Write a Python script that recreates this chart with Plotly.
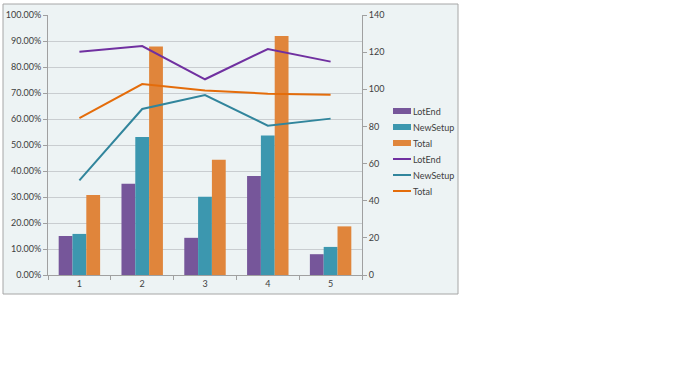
import plotly.graph_objects as go

categories = ["1", "2", "3", "4", "5"]
bar_lotend = [15.0, 35.1, 14.3, 38.1, 8.0]
bar_newsetup = [15.8, 53.1, 30.1, 53.7, 10.8]
bar_total = [30.8, 87.9, 44.3, 91.9, 18.7]
line_lotend = [120.2, 123.3, 105.4, 121.7, 114.9]
line_newsetup = [51.0, 89.4, 96.9, 80.4, 84.2]
line_total = [84.5, 102.8, 99.4, 97.6, 97.1]
left_ticks = [0, 10, 20, 30, 40, 50, 60, 70, 80, 90, 100]
left_labels = [f"{v:.2f}%" for v in left_ticks]
right_ticks = [0, 20, 40, 60, 80, 100, 120, 140]
series_names = ["LotEnd", "NewSetup", "Total"]

W, H = 683, 384
L, R, T, B = 48, 362, 15, 275
bg = "#EDF3F4"
font = "Lato, 'Open Sans', sans-serif"
tick_col = "#404040"
bar_colors = ["#76569A", "#3C97AF", "#E0853B"]
line_colors = ["#7030A0", "#31859C", "#E46C0A"]

fig = go.Figure()
for n, v, c in zip(series_names, [bar_lotend, bar_newsetup, bar_total], bar_colors):
    fig.add_trace(go.Bar(x=categories, y=v, name=n, marker=dict(color=c, line=dict(width=0)),
                         yaxis="y", showlegend=False))
for n, v, c in zip(series_names, [line_lotend, line_newsetup, line_total], line_colors):
    fig.add_trace(go.Scatter(x=categories, y=v, name=n, mode="lines", line=dict(color=c, width=2),
                             yaxis="y2", showlegend=False))

pw, ph = R - L, B - T
def px(x):
    return (x - L) / pw
def py(y):
    return (B - y) / ph

shapes = [dict(type="rect", xref="paper", yref="paper", x0=px(3), x1=px(458), y0=py(294), y1=py(4),
               fillcolor=bg, line=dict(color="#A6A6A6", width=1), layer="below")]
annotations = []
# manual legend
leg_y = [111, 127, 143, 159, 175, 191]
for i in range(6):
    y = leg_y[i]
    name = series_names[i % 3]
    if i < 3:
        shapes.append(dict(type="rect", xref="paper", yref="paper", x0=px(393), x1=px(411),
                           y0=py(y + 3), y1=py(y - 3), fillcolor=bar_colors[i], line=dict(width=0)))
    else:
        shapes.append(dict(type="line", xref="paper", yref="paper", x0=px(393), x1=px(411),
                           y0=py(y), y1=py(y), line=dict(color=line_colors[i - 3], width=2)))
    annotations.append(dict(xref="paper", yref="paper", x=px(411), y=py(y), text=name, showarrow=False,
                            xanchor="left", yanchor="middle", font=dict(size=9, color=tick_col)))

fig.update_layout(
    width=W, height=H,
    margin=dict(l=L, r=W - R, t=T, b=H - B, autoexpand=False),
    paper_bgcolor="white",
    plot_bgcolor="rgba(0,0,0,0)",
    barmode="group",
    bargap=0.34,
    bargroupgap=0,
    showlegend=False,
    font=dict(family=font, size=9, color=tick_col),
    xaxis=dict(type="category", showgrid=False, showline=True, linecolor="#A0A0A0", linewidth=1,
               ticks="outside", ticklen=4, tickcolor="#A0A0A0", tickfont=dict(size=9, color=tick_col),
               tickson="boundaries", zeroline=False),
    yaxis=dict(range=[0, 100], tickvals=left_ticks, ticktext=left_labels, showgrid=True,
               gridcolor="#C9CDD0", gridwidth=1, showline=True, linecolor="#A0A0A0",
               ticks="outside", ticklen=4, tickcolor="#A0A0A0", zeroline=False,
               tickfont=dict(size=9, color=tick_col)),
    yaxis2=dict(range=[0, 140], tickvals=right_ticks, overlaying="y", side="right", showgrid=False,
                showline=True, linecolor="#A0A0A0", ticks="outside", ticklen=4, tickcolor="#A0A0A0",
                zeroline=False, tickfont=dict(size=9, color=tick_col)),
    shapes=shapes,
    annotations=annotations,
)
fig.write_html("out.html", config={"displayModeBar": False},
               post_script="document.body.style.margin='0';")
